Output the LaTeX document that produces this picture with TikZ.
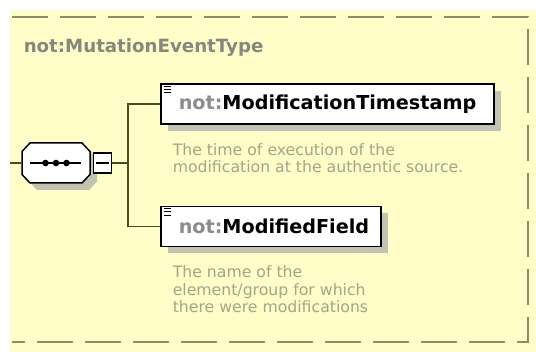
\documentclass[tikz,border=0pt]{standalone}
\usepackage{fontspec}
\setmainfont{DejaVu Sans}
\usetikzlibrary{positioning,shadows}
\definecolor{bgyellow}{RGB}{255,253,200}
\definecolor{dashcol}{RGB}{140,140,105}
\definecolor{titlegray}{RGB}{135,135,125}
\definecolor{notgray}{RGB}{140,140,140}
\definecolor{desccol}{RGB}{165,165,135}
\definecolor{wirecol}{RGB}{75,75,35}
\definecolor{shadowgray}{RGB}{195,195,180}
\begin{document}
\begin{tikzpicture}[x=1pt,y=-1pt,line width=1.5pt,
	wire/.style={draw=wirecol,line width=1.8pt},
	boxshadow/.style={drop shadow={shadow xshift=7pt,shadow yshift=-7pt,fill=shadowgray,opacity=1}},
	elem/.style={draw=black,fill=white,anchor=west,minimum height=40pt,inner sep=0pt,align=left,text width=#1,boxshadow,font=\bfseries\fontsize{19.2}{22}\selectfont},
	desc/.style={inner sep=0pt,align=left,text=desccol,font=\fontsize{15.7}{17.5}\selectfont}]
	\useasboundingbox (0,0) rectangle (536,352);
	\fill[bgyellow] (10,10) rectangle (536,352);% yellow type area
	\draw[dashcol,dash pattern=on 36pt off 12pt] (12,17) -- (528,17) -- (528,342) -- (12,342);
	
	\node[anchor=west,inner sep=0pt,text=titlegray,font=\bfseries\fontsize{18.2}{21}\selectfont] (title) at (23,48) {not:MutationEventType};
	
	\coordinate (entry) at (10,163);
	\coordinate (fork)  at (128,163);
	\node[minimum width=68pt,minimum height=40pt,inner sep=0pt] (seq) at (56,163) {};
	\draw[fill=white,boxshadow,shift={(seq.center)}] (-34,-11.5) -- (-26,-20) -- (26,-20) -- (34,-11.5) -- (34,11.5) -- (26,20) -- (-26,20) -- (-34,11.5) -- cycle;% sequence octagon
	\node[draw,fill=white,minimum width=18pt,minimum height=20pt,inner sep=0pt,line width=1.2pt,right=2pt of seq] (minus) {};
	\draw[line width=1.6pt] ([xshift=9pt]seq.west) -- ([xshift=-10pt]seq.east);
	\foreach \dx in {-10.5,0,10.5}
		\fill ([xshift=\dx pt]seq.center) circle (3.3pt);
	\draw[line width=1.2pt] ([xshift=3pt]minus.west) -- ([xshift=-3pt]minus.east);
	
	\node[elem=333pt] (box1) at (160,104) {\hspace*{18pt}\mbox{\textcolor{notgray}{not:}ModificationTimestamp}};
	\node[elem=220pt] (box2) at (160,226.5) {\hspace*{18pt}\mbox{\textcolor{notgray}{not:}ModifiedField}};
	\foreach \b in {box1,box2}
		\foreach \dy in {3,6,9.5}
			\draw[line width=1.2pt,shift={(\b.north west)}] (4,\dy) -- (11,\dy);% doc icon
	
	\draw[wire] (entry) -- (seq.west);
	\draw[wire] (minus.east) -- (fork);
	\draw[wire] (box1.west) -| (fork) |- (box2.west);
	
	\node[desc,below right=18pt and 12pt of box1.south west] (desc1) {The time of execution of the\\modification at the authentic source.};
	\node[desc,below right=18pt and 12pt of box2.south west] (desc2) {The name of the\\element/group for which\\there were modifications};
\end{tikzpicture}
\end{document}
